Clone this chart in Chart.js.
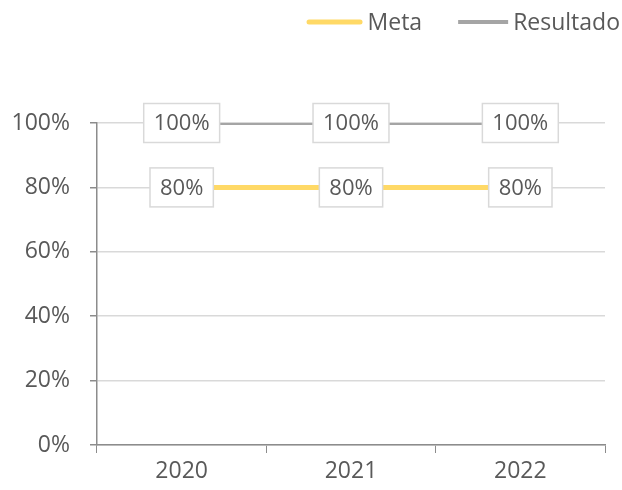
<!DOCTYPE html>
<html>
<head>
<meta charset="utf-8">
<script src="https://cdn.jsdelivr.net/npm/chart.js@4/dist/chart.umd.min.js"></script>
<style>
  html, body { margin: 0; padding: 0; background: #fff; }
  #box { width: 622px; height: 490px; }
</style>
</head>
<body>
<div id="box"><canvas id="grafico_meta"></canvas></div>
<script>
var anos = ['2020', '2021', '2022'];
var valoresMeta = [80, 80, 80];
var valoresResultado = [100, 100, 100];
var nomesSeries = ['Meta', 'Resultado'];

var corTexto = '#595959';
var fonte = "'Open Sans', 'Noto Sans', sans-serif";

// rotulos com caixa branca em cima de cada ponto
var rotulos = {
    id: 'rotulos',
    afterDatasetsDraw: function(chart) {
        var ctx = chart.ctx;
        ctx.save();
        ctx.font = '22px ' + fonte;
        ctx.textAlign = 'center';
        ctx.textBaseline = 'middle';
        chart.data.datasets.forEach(function(ds, i) {
            var meta = chart.getDatasetMeta(i);
            meta.data.forEach(function(p, j) {
                var txt = ds.data[j] + '%';
                var w = ctx.measureText(txt).width + 20;
                var h = 39;
                ctx.fillStyle = '#fff';
                ctx.fillRect(p.x - w / 2, p.y - h / 2, w, h);
                ctx.strokeStyle = '#d9d9d9';
                ctx.lineWidth = 1.5;
                ctx.strokeRect(p.x - w / 2, p.y - h / 2, w, h);
                ctx.fillStyle = corTexto;
                ctx.fillText(txt, p.x, p.y + 1);
            });
        });
        ctx.restore();
    }
};

// legenda no canto superior direito (desenhada a partir da direita)
var legenda = {
    id: 'legenda',
    afterDraw: function(chart) {
        var ctx = chart.ctx;
        var tamLinha = [56, 50];
        ctx.save();
        ctx.font = '23px ' + fonte;
        ctx.textBaseline = 'middle';
        ctx.textAlign = 'left';
        var x = 620;
        var y = 22;
        for (var i = chart.data.datasets.length - 1; i >= 0; i--) {
            var ds = chart.data.datasets[i];
            var tw = ctx.measureText(ds.label).width;
            x -= tw;
            ctx.fillStyle = corTexto;
            ctx.fillText(ds.label, x, y + 1);
            x -= 5;
            ctx.strokeStyle = ds.borderColor;
            ctx.lineWidth = ds.borderWidth;
            ctx.lineCap = ds.borderCapStyle || 'butt';
            var ajuste = ctx.lineCap === 'round' ? ds.borderWidth / 2 : 0;
            ctx.beginPath();
            ctx.moveTo(x - tamLinha[i] + ajuste, y);
            ctx.lineTo(x - ajuste, y);
            ctx.stroke();
            x -= tamLinha[i] + 36;
        }
        ctx.restore();
    }
};

var grafico = new Chart(document.getElementById('grafico_meta').getContext('2d'), {
    type: 'line',
    data: {
        labels: anos,
        datasets: [{
            label: nomesSeries[0],
            data: valoresMeta,
            borderColor: '#FFD966',
            backgroundColor: '#FFD966',
            borderWidth: 5,
            borderCapStyle: 'round',
            pointRadius: 0
        }, {
            label: nomesSeries[1],
            data: valoresResultado,
            borderColor: '#A5A5A5',
            backgroundColor: '#A5A5A5',
            borderWidth: 4,
            pointRadius: 0
        }]
    },
    options: {
        responsive: true,
        maintainAspectRatio: false,
        animation: false,
        layout: { padding: { left: 0, right: 17, top: 123, bottom: 0 } },
        plugins: {
            legend: { display: false },
            tooltip: { enabled: false }
        },
        scales: {
            x: {
                offset: true,
                grid: {
                    offset: true,
                    drawOnChartArea: false,
                    tickLength: 8,
                    tickColor: '#8c8c8c'
                },
                border: { color: '#8c8c8c', width: 1.5 },
                ticks: {
                    color: corTexto,
                    font: { family: fonte, size: 23 },
                    padding: 5
                },
                afterFit: function(s) { s.height = 45; }
            },
            y: {
                min: 0,
                max: 100,
                ticks: {
                    stepSize: 20,
                    color: corTexto,
                    font: { family: fonte, size: 23 },
                    padding: 20,
                    callback: function(v) { return v + '%'; }
                },
                grid: {
                    color: '#d9d9d9',
                    lineWidth: 1.5,
                    tickLength: 7,
                    tickColor: '#8c8c8c'
                },
                border: { color: '#8c8c8c', width: 1.5 },
                afterFit: function(s) { s.width = 97; }
            }
        }
    },
    plugins: [rotulos, legenda]
});
</script>
</body>
</html>
